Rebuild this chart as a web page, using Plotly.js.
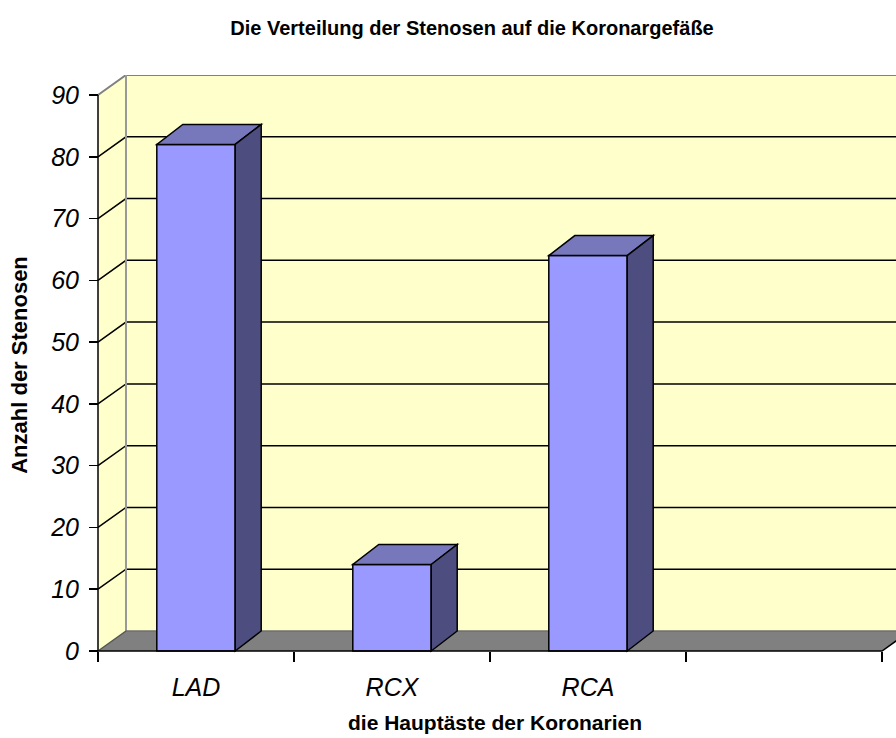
<!DOCTYPE html>
<html><head><meta charset="utf-8">
<script src="https://cdn.plot.ly/plotly-3.0.1.min.js"></script>
<style>html,body{margin:0;padding:0;background:#fff;overflow:hidden}</style>
</head><body><div id="chart" style="width:896px;height:738px"></div>
<script>
// ---- data ----
const categories = ['LAD', 'RCX', 'RCA', ' '];
const stenosen = [82, 14, 64, null];
const yTickValues = [0, 10, 20, 30, 40, 50, 60, 70, 80, 90];
const gridValues = [10, 20, 30, 40, 50, 60, 70, 80];

// ---- geometry (pixels) ----
const W = 896, H = 738;
const PL = 94, PR = 896, PT = 75, PB = 655;
const X0PX = 98, CATPX = 196;
const Y0PX = 651, YTOPPX = 95;
const yTop = yTickValues[yTickValues.length - 1];
const pxPerY = (Y0PX - YTOPPX) / yTop;
const xmin = -0.5 - (X0PX - PL) / CATPX;
const xmax = -0.5 + (PR - X0PX) / CATPX;
const ymin = -(PB - Y0PX) / pxPerY;
const ymax = yTop + (YTOPPX - PT) / pxPerY;
const WALL_DX = 28 / CATPX, WALL_DY = 20 / pxPerY;
const BAR_DX = 26 / CATPX, BAR_DY = 20 / pxPerY;
const BAR_W = 0.4;
const xL = -0.5, xR = categories.length - 0.5;

function pathOf(pts, close) {
  return 'M' + pts.map(p => p[0] + ',' + p[1]).join(' L') + (close ? ' Z' : '');
}
const shapes = [];
function addPath(pts, close, opts) {
  shapes.push(Object.assign({type: 'path', xref: 'x', yref: 'y', path: pathOf(pts, close)}, opts));
}
const yellow = '#FFFFCC', gray = '#808080';
// back wall
addPath([[xL + WALL_DX, WALL_DY], [xR + WALL_DX, WALL_DY], [xR + WALL_DX, yTop + WALL_DY], [xL + WALL_DX, yTop + WALL_DY]], true,
  {layer: 'below', fillcolor: yellow, line: {width: 0}});
// side wall
addPath([[xL, 0], [xL + WALL_DX, WALL_DY], [xL + WALL_DX, yTop + WALL_DY], [xL, yTop]], true,
  {layer: 'below', fillcolor: yellow, line: {width: 0}});
// floor
addPath([[xL, 0], [xR, 0], [xR + WALL_DX, WALL_DY], [xL + WALL_DX, WALL_DY]], true,
  {layer: 'below', fillcolor: gray, line: {width: 0}});
// gridlines
gridValues.forEach(v => addPath([[xL, v], [xL + WALL_DX, v + WALL_DY], [xR + WALL_DX, v + WALL_DY]], false,
  {layer: 'below', line: {color: '#000', width: 1.5}}));
// wall borders (gray)
addPath([[xL, yTop], [xL + WALL_DX, yTop + WALL_DY], [xR + WALL_DX, yTop + WALL_DY]], false,
  {layer: 'below', line: {color: gray, width: 2}});
addPath([[xL + WALL_DX, yTop + WALL_DY], [xL + WALL_DX, WALL_DY]], false,
  {layer: 'below', line: {color: '#999999', width: 2}});
addPath([[xL + WALL_DX, WALL_DY], [xR + WALL_DX, WALL_DY]], false,
  {layer: 'below', line: {color: '#6e6e6e', width: 1.5}});
addPath([[xL, 0], [xL + WALL_DX, WALL_DY]], false,
  {layer: 'below', line: {color: '#555555', width: 1.5}});
// front frame
addPath([[xL, yTop], [xL, 0], [xR, 0], [xR + WALL_DX, WALL_DY]], false,
  {layer: 'above', line: {color: '#000', width: 1.5}});
// 3D bar faces
stenosen.forEach((v, i) => {
  if (v === null || v === undefined) return;
  const l = i - BAR_W / 2, r = i + BAR_W / 2;
  addPath([[l, v], [r, v], [r + BAR_DX, v + BAR_DY], [l + BAR_DX, v + BAR_DY]], true,
    {layer: 'above', fillcolor: '#7777BB', line: {color: '#000', width: 1.5}});
  addPath([[r, 0], [r + BAR_DX, BAR_DY], [r + BAR_DX, v + BAR_DY], [r, v]], true,
    {layer: 'above', fillcolor: '#4D4D80', line: {color: '#000', width: 1.5}});
});

const font = 'Arial, "Liberation Sans", sans-serif';
const data = [{
  type: 'bar', x: categories, y: stenosen, width: BAR_W,
  marker: {color: '#9999FF', line: {color: '#000', width: 1.5}},
  hoverinfo: 'x+y'
}];
const layout = {
  width: W, height: H,
  margin: {l: PL, r: W - PR, t: PT, b: H - PB, pad: 0},
  paper_bgcolor: '#ffffff', plot_bgcolor: '#ffffff',
  showlegend: false,
  font: {family: font, color: '#000'},
  title: {text: 'Die Verteilung der Stenosen auf die Koronargefäße',
    font: {family: font, size: 20, weight: 'bold', color: '#000'},
    x: 472 / W, xanchor: 'center', xref: 'container', y: 1 - 28 / H, yref: 'container', yanchor: 'middle'},
  xaxis: {type: 'category', categoryorder: 'array', categoryarray: categories,
    range: [xmin, xmax], autorange: false, anchor: 'free', position: (PB - Y0PX) / (PB - PT),
    showline: false, showgrid: false, zeroline: false,
    ticks: 'outside', tickson: 'boundaries', ticklen: 10, tickwidth: 1.5, tickcolor: '#000',
    ticklabelstandoff: 19,
    tickfont: {family: font, size: 25, style: 'italic', color: '#000'},
    title: {text: 'die Hauptäste der Koronarien', font: {family: font, size: 21, weight: 'bold', color: '#000'}, standoff: 15},
    fixedrange: true},
  yaxis: {range: [ymin, ymax], autorange: false, anchor: 'free', position: (X0PX - PL) / (PR - PL),
    showline: false, showgrid: false, zeroline: false,
    tickmode: 'array', tickvals: yTickValues, ticktext: yTickValues.map(String),
    ticks: 'outside', ticklen: 9, tickwidth: 1.5, tickcolor: '#000',
    ticklabelstandoff: 5,
    tickfont: {family: font, size: 25, style: 'italic', color: '#000'},
    title: {text: 'Anzahl der Stenosen', font: {family: font, size: 22, weight: 'bold', color: '#000'}, standoff: 15},
    fixedrange: true},
  shapes: shapes
};
Plotly.newPlot('chart', data, layout, {displayModeBar: false, staticPlot: true});
</script>
</body></html>
